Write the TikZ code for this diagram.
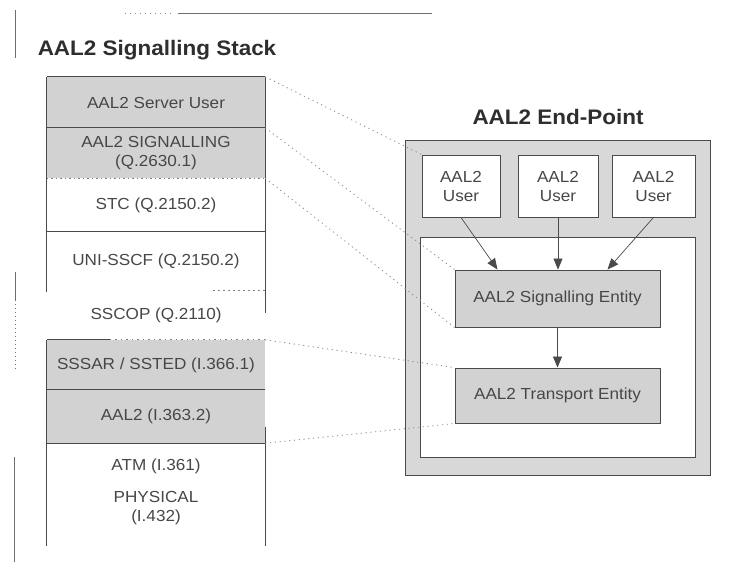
\documentclass[tikz,border=0pt]{standalone}
\usepackage{fontspec}
\setmainfont{Liberation Sans}[FakeStretch=1.07]
\usetikzlibrary{arrows.meta}

\definecolor{shade}{HTML}{D2D2D2}
\definecolor{panel}{HTML}{D8D8D8}
\definecolor{edge}{HTML}{4A4A4A}
\definecolor{ink}{HTML}{474747}
\definecolor{headink}{HTML}{2E2E2E}
\definecolor{trace}{HTML}{8C8C8C}

\newcommand\lblfont{\fontsize{16}{19}\selectfont}
\newcommand\hdfont{\fontsize{21}{24}\selectfont\bfseries}

\begin{document}
\begin{tikzpicture}[x=1pt,y=-1pt,
  layer/.style={rectangle, minimum width=218pt, inner sep=0pt, align=center,
                font=\lblfont, text=ink},
  shaded/.style={fill=shade},
  rule/.style={draw=edge, line width=0.9pt},
  userbox/.style={rectangle, draw=edge, fill=white, line width=0.9pt,
                  minimum height=62pt, inner sep=0pt, align=center,
                  font=\lblfont, text=ink},
  entity/.style={rectangle, draw=edge, fill=shade, line width=0.9pt,
                 minimum width=205pt, inner sep=0pt, font=\lblfont, text=ink},
  heading/.style={font=\hdfont, text=headink, inner sep=0pt},
  flow/.style={draw=edge, line width=0.7pt,
               -{Triangle[length=11pt,width=9pt]}},
  link/.style={draw=trace, line width=0.8pt, dash pattern=on 1.2pt off 3.6pt},
  frame/.style={draw=edge!80, line width=0.8pt}]

\useasboundingbox (0,0) rectangle (730,574);
\fill[white] (0,0) rectangle (730,574);

% faint page frame pieces
\draw[frame] (15,10) -- (15,58);
\draw[frame] (15,272) -- (15,300);
\draw[frame, dash pattern=on 1pt off 3pt] (15,300) -- (15,372);
\draw[frame] (14,457) -- (14,562);
\draw[frame] (178,13) -- (432,13);
\draw[frame, draw=trace, dash pattern=on 1pt off 4pt] (125,13) -- (172,13);

% ---------------- signalling stack ----------------
\node[heading] (stacktitle) at (157,50) {AAL2 Signalling Stack};

\node[layer, shaded, minimum height=51pt] (srv)   at (156,102.5) {AAL2 Server User};
\node[layer, shaded, minimum height=50pt] (sig)   at (156,153)   {AAL2 SIGNALLING\\(Q.2630.1)};
\node[layer, minimum height=54pt]         (stc)   at (156,205)   {STC (Q.2150.2)};
\node[layer, minimum height=58pt]         (uni)   at (156,261)   {UNI-SSCF (Q.2150.2)};
\node[layer, minimum height=50pt]         (sscop) at (156,315)   {SSCOP (Q.2110)};
\node[layer, shaded, minimum height=50pt] (sssar) at (156,365)   {SSSAR / SSTED (I.366.1)};
\node[layer, shaded, minimum height=53pt] (aal)   at (156,416.5) {AAL2 (I.363.2)};
\node[layer, minimum height=46pt]         (atm)   at (156,466)   {ATM (I.361)};
\node[layer, minimum height=38pt]         (phys)  at (156,508)   {PHYSICAL\\(I.432)};

% layer boundaries
\draw[rule] (srv.north west) -- (srv.north east);
\draw[rule] (sig.north west) -- (sig.north east);
\draw[edge!70, line width=0.7pt, dash pattern=on 1.5pt off 3pt] (sig.south west) -- (sig.south east);
\draw[rule] (uni.north west) -- (uni.north east);
\draw[edge!70, line width=0.7pt, dash pattern=on 2pt off 3pt]
  ([xshift=-52pt]uni.south east) -- (uni.south east);
\draw[rule] (sssar.north west) -- ([xshift=63pt]sssar.north west);
\draw[edge!70, line width=0.7pt, dash pattern=on 1.5pt off 4pt]
  ([xshift=63pt]sssar.north west) -- (sssar.north east);
\draw[rule] (aal.north west) -- (aal.north east);
\draw[rule] (aal.south west) -- (aal.south east);

% side walls of the stack
\draw[rule] (srv.north west) -- ([yshift=-2pt]uni.south west);
\draw[rule] (sssar.north west) -- ([yshift=-19pt]phys.south west);
\draw[rule] (srv.north east) -- ([yshift=-23pt]uni.south east);
\draw[rule] ([yshift=16pt]aal.south east) -- ([yshift=-19pt]phys.south east);

% ---------------- end-point ----------------
\node[heading] (eptitle) at (558,117) {AAL2 End-Point};

\node[rectangle, draw=edge, fill=panel, line width=0.9pt,
      minimum width=305pt, minimum height=335pt, inner sep=0pt] (ep) at (557.5,307.5) {};
\node[rectangle, draw=edge, fill=white, line width=0.9pt,
      minimum width=275pt, minimum height=220pt, inner sep=0pt] (core) at (557.5,347) {};

\node[userbox, minimum width=78pt] (u1) at (461,186)   {AAL2\\User};
\node[userbox, minimum width=80pt] (u2) at (558,186)   {AAL2\\User};
\node[userbox, minimum width=83pt] (u3) at (653.5,186) {AAL2\\User};

\node[entity, minimum height=57pt] (sigent) at (557.5,298.5) {AAL2 Signalling Entity};
\node[entity, minimum height=55pt] (trent)  at (557.5,395.5) {AAL2 Transport Entity};

\draw[flow] (u1.south) -- ([xshift=-60pt]sigent.north);
\draw[flow] (u2.south) -- (u2.south |- sigent.north);
\draw[flow] (u3.south) -- ([xshift=50pt]sigent.north);
\draw[flow] (sigent.south) -- (trent.north);

% ---------------- mapping between stack and end-point ----------------
\draw[link] (srv.north east)   -- (u1.north west);
\draw[link] (sig.north east)   -- (sigent.north west);
\draw[link] (sig.south east)   -- (sigent.south west);
\draw[link] (sssar.north east) -- (trent.north west);
\draw[link] (aal.south east)   -- (trent.south west);

\end{tikzpicture}
\end{document}
